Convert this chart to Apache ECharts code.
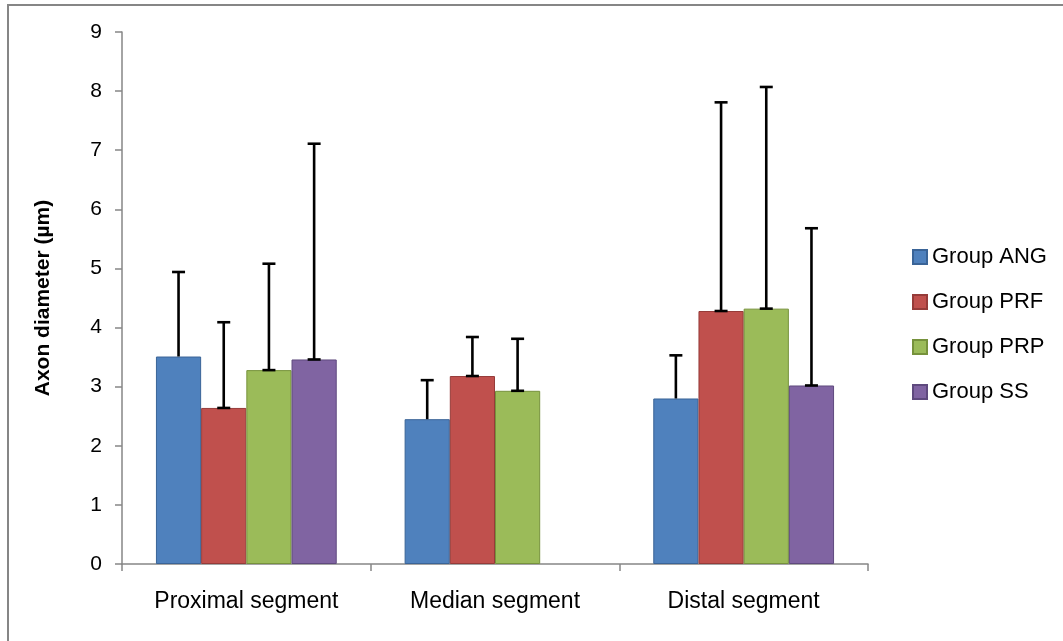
<!DOCTYPE html>
<html>
<head>
<meta charset="utf-8">
<script src="https://cdn.jsdelivr.net/npm/echarts@6/dist/echarts.min.js"></script>
<style>
html,body{margin:0;padding:0;background:#fff;}
#chart{width:1063px;height:641px;}
</style>
</head>
<body>
<div id="chart"></div>
<script>
// ---- data ----
const categories = ['Proximal segment', 'Median segment', 'Distal segment'];
const groups = ['Group ANG', 'Group PRF', 'Group PRP', 'Group SS'];
const meanANG = [3.51, 2.45, 2.80];
const meanPRF = [2.64, 3.18, 4.28];
const meanPRP = [3.28, 2.93, 4.32];
const meanSS  = [3.46, null, 3.02];
const upperANG = [4.94, 3.11, 3.53];
const upperPRF = [4.09, 3.84, 7.81];
const upperPRP = [5.08, 3.81, 8.07];
const upperSS  = [7.11, null, 5.68];
const yTicks = [0, 1, 2, 3, 4, 5, 6, 7, 8, 9];

const means = [meanANG, meanPRF, meanPRP, meanSS];
const uppers = [upperANG, upperPRF, upperPRP, upperSS];
const colors = ['#4F81BD', '#C0504D', '#9BBB59', '#8064A2'];
const borders = ['#3A6497', '#963B39', '#76923C', '#5F4A7E'];
const lowerCap = [false, true, true, true];
const GAP = 0.273;
const FONT = "'Liberation Sans', Arial, sans-serif";

const series = [];
groups.forEach((g, i) => {
  series.push({
    name: g,
    type: 'bar',
    barGap: '0%',
    barCategoryGap: (GAP * 100) + '%',
    data: means[i].map(v => v === null ? '-' : v),
    itemStyle: { color: colors[i], borderColor: borders[i], borderWidth: 1 },
    emphasis: { disabled: true },
    z: 2
  });
});
groups.forEach((g, i) => {
  const data = [];
  means[i].forEach((m, c) => {
    if (m !== null && uppers[i][c] !== null) data.push([c, m, uppers[i][c]]);
  });
  series.push({
    name: g + ' err',
    type: 'custom',
    data: data,
    z: 5,
    silent: true,
    renderItem: function (params, api) {
      const c = api.value(0);
      const p0 = api.coord([c, api.value(1)]);
      const p1 = api.coord([c, api.value(2)]);
      const catW = api.size([1, 0])[0];
      const bw = catW * (1 - GAP) / 4;
      const x = p0[0] + (i - 1.5) * bw;
      const half = 6.5;
      const st = { stroke: '#000', lineWidth: 2.6 };
      const children = [
        { type: 'line', shape: { x1: x, y1: p0[1], x2: x, y2: p1[1] }, style: st },
        { type: 'line', shape: { x1: x - half, y1: p1[1], x2: x + half, y2: p1[1] }, style: st }
      ];
      if (lowerCap[i]) {
        children.push({ type: 'line', shape: { x1: x - half, y1: p0[1], x2: x + half, y2: p0[1] }, style: st });
      }
      return { type: 'group', children: children };
    }
  });
});

const chart = echarts.init(document.getElementById('chart'), null, { renderer: 'canvas' });
chart.setOption({
  animation: false,
  backgroundColor: '#fff',
  textStyle: { fontFamily: FONT },
  grid: { left: 122, right: 195, top: 32, bottom: 77, containLabel: false },
  legend: {
    data: groups.map(g => ({ name: g, icon: 'rect' })),
    orient: 'vertical',
    left: 912,
    top: 246,
    padding: 0,
    itemWidth: 14,
    itemHeight: 14,
    itemGap: 23,
    textStyle: { fontFamily: FONT, fontSize: 22, color: '#000', lineHeight: 22 },
    selectedMode: false
  },
  xAxis: {
    type: 'category',
    data: categories,
    boundaryGap: true,
    axisLine: { lineStyle: { color: '#868686', width: 1.5 } },
    axisTick: { show: true, length: 7, alignWithLabel: false, lineStyle: { color: '#868686', width: 1.5 } },
    axisLabel: { fontFamily: FONT, fontSize: 23, color: '#000', margin: 26 }
  },
  yAxis: {
    type: 'value',
    min: yTicks[0],
    max: yTicks[yTicks.length - 1],
    interval: 1,
    axisLine: { show: true, lineStyle: { color: '#868686', width: 1.5 } },
    axisTick: { show: true, length: 7, lineStyle: { color: '#868686', width: 1.5 } },
    splitLine: { show: false },
    axisLabel: { fontFamily: FONT, fontSize: 21, color: '#000', margin: 20 }
  },
  graphic: [
    { type: 'rect', shape: { x: 8, y: 5, width: 1200, height: 800 }, style: { fill: 'none', stroke: '#868686', lineWidth: 2 }, silent: true },
    { type: 'text', x: 43, y: 298, rotation: Math.PI / 2,
      style: { text: 'Axon diameter (µm)', fontFamily: FONT, fontSize: 21, fontWeight: 'bold', fill: '#000', textAlign: 'center', textVerticalAlign: 'middle' } }
  ],
  series: series
});
</script>
</body>
</html>
